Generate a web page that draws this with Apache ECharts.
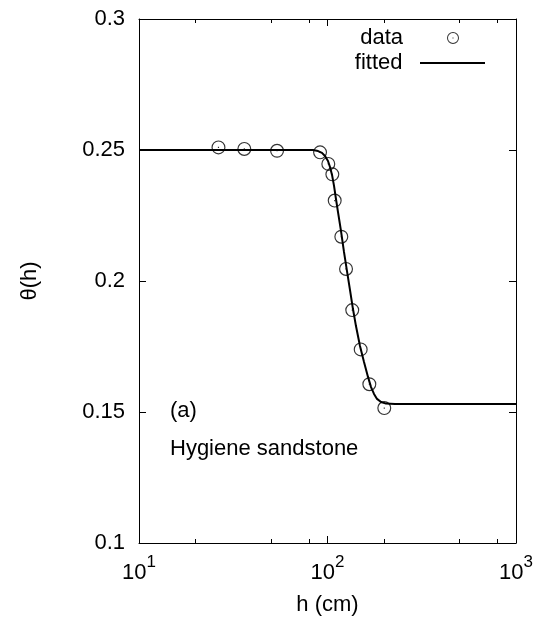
<!DOCTYPE html>
<html>
<head>
<meta charset="utf-8">
<script src="https://cdn.jsdelivr.net/npm/echarts@6/dist/echarts.min.js"></script>
<style>
  html, body { margin: 0; padding: 0; background: #fff; }
  #chart { width: 538px; height: 623px; }
</style>
</head>
<body>
<div id="chart"></div>
<script>
// Measured water retention, Hygiene sandstone: suction head h (cm) vs water content θ
const hData = [26.4, 36.2, 54.0, 91.3, 101.0, 106.1, 109.2, 118.4, 125.4, 135.3, 150.0, 166.7, 200.1];
const thetaData = [0.2510, 0.2504, 0.2497, 0.2491, 0.2447, 0.2407, 0.2307, 0.2169, 0.2046, 0.1889, 0.1739, 0.1606, 0.1515];

// Fitted retention curve, sampled along its length
const hFit = [10, 30, 60, 83.8, 89.1, 93.5, 97.0, 100.6, 103.1, 105.7, 108.3, 110.9, 113.7, 117.9, 122.3,
  126.9, 131.6, 136.5, 141.6, 148.7, 156.2, 164.0, 170.2, 176.5, 183.1, 192.3, 204.3, 228.1, 400, 1000];
const thetaFit = [0.2500, 0.2500, 0.2500, 0.2500, 0.2496, 0.2489, 0.2477, 0.2458, 0.2435, 0.2405, 0.2363, 0.2313, 0.2263, 0.2191, 0.2111,
  0.2038, 0.1966, 0.1893, 0.1828, 0.1752, 0.1691, 0.1634, 0.1595, 0.1569, 0.1550, 0.1538, 0.1532, 0.1531, 0.1531, 0.1531];

// Axis ranges and ticks
const xMin = 10, xMax = 1000;
const xMinorTicks = [20, 50, 80, 200, 500, 800];
const yMin = 0.1, yMax = 0.3, yStep = 0.05;

const FONT = '"Liberation Sans", Arial, Helvetica, sans-serif';
const TXT = 22;

// open circle with a centre dot
const ringDot = 'path://M0,6 A6,6 0 1,1 12,6 A6,6 0 1,1 0,6 Z M1,6 A5,5 0 1,0 11,6 A5,5 0 1,0 1,6 Z M5.5,5.5 h1 v1 h-1 Z';
const shortLine = 'path://M0,0 H65 V2 H0 Z';

const chart = echarts.init(document.getElementById('chart'), null, { renderer: 'canvas' });

const gridRect = { left: 139, right: 22, top: 19, bottom: 80 };

const logAxisBase = {
  type: 'log', logBase: 10, min: xMin, max: xMax,
  axisLine: { show: true, lineStyle: { color: '#000', width: 1 } },
  splitLine: { show: false },
  minorTick: { show: false }
};

const option = {
  backgroundColor: '#fff',
  animation: false,
  textStyle: { fontFamily: FONT, color: '#000' },
  grid: [
    Object.assign({}, gridRect),
    Object.assign({}, gridRect)
  ],
  xAxis: [
    Object.assign({}, logAxisBase, {
      gridIndex: 0, position: 'bottom',
      name: 'h (cm)', nameLocation: 'middle', nameGap: 51,
      nameTextStyle: { fontSize: TXT, fontFamily: FONT, color: '#000' },
      axisTick: { show: true, inside: true, length: 7, lineStyle: { color: '#000' } },
      axisLabel: {
        show: true, margin: 11, showMinLabel: true, showMaxLabel: true,
        formatter: function (v) { return '{b|10}{s|' + Math.round(Math.log10(v)) + '}'; },
        rich: {
          b: { fontSize: TXT, fontFamily: FONT, color: '#000', lineHeight: 30, verticalAlign: 'bottom' },
          s: { fontSize: 17, fontFamily: FONT, color: '#000', lineHeight: 17, verticalAlign: 'top' }
        }
      }
    }),
    Object.assign({}, logAxisBase, {
      gridIndex: 0, position: 'top',
      axisTick: { show: true, inside: true, length: 7, lineStyle: { color: '#000' } },
      axisLabel: { show: false }
    }),
    Object.assign({}, logAxisBase, {
      gridIndex: 1, position: 'bottom',
      axisLine: { show: false },
      axisTick: { show: true, inside: true, length: 4, customValues: xMinorTicks, lineStyle: { color: '#000' } },
      axisLabel: { show: false }
    }),
    Object.assign({}, logAxisBase, {
      gridIndex: 1, position: 'top',
      axisLine: { show: false },
      axisTick: { show: true, inside: true, length: 4, customValues: xMinorTicks, lineStyle: { color: '#000' } },
      axisLabel: { show: false }
    })
  ],
  yAxis: [
    {
      gridIndex: 0, type: 'value', position: 'left', min: yMin, max: yMax, interval: yStep,
      name: 'θ(h)', nameLocation: 'middle', nameGap: 98, nameRotate: 90,
      nameTextStyle: { fontSize: TXT, fontFamily: FONT, color: '#000' },
      axisLine: { show: true, lineStyle: { color: '#000', width: 1 } },
      axisTick: { show: true, inside: true, length: 7, lineStyle: { color: '#000' } },
      axisLabel: { show: true, margin: 14, fontSize: TXT, fontFamily: FONT, color: '#000',
        formatter: function (v) { return String(Math.round(v * 100) / 100); } },
      splitLine: { show: false }
    },
    {
      gridIndex: 0, type: 'value', position: 'right', min: yMin, max: yMax, interval: yStep,
      axisLine: { show: true, lineStyle: { color: '#000', width: 1 } },
      axisTick: { show: true, inside: true, length: 7, lineStyle: { color: '#000' } },
      axisLabel: { show: false },
      splitLine: { show: false }
    },
    {
      gridIndex: 1, type: 'value', min: yMin, max: yMax, interval: yStep, show: false
    }
  ],
  legend: [
    {
      data: [{ name: 'data', icon: ringDot, itemStyle: { color: '#000', borderWidth: 0 } }],
      right: 79, top: 27, align: 'right', orient: 'vertical',
      itemWidth: 90, itemHeight: 12, itemGap: 0, padding: 0,
      selectedMode: false,
      textStyle: { fontSize: TXT, fontFamily: FONT, color: '#000', lineHeight: 22 }
    },
    {
      data: [{ name: 'fitted', icon: shortLine, itemStyle: { color: '#000', borderWidth: 0 } }],
      right: 53, top: 52, align: 'right', orient: 'vertical',
      itemWidth: 90, itemHeight: 2, itemGap: 0, padding: 0,
      selectedMode: false,
      textStyle: { fontSize: TXT, fontFamily: FONT, color: '#000', lineHeight: 22 }
    }
  ],
  graphic: [
    { type: 'text', left: 170, top: 400, style: { text: '(a)', fontSize: TXT, fontFamily: FONT, fill: '#000' } },
    { type: 'text', left: 170, top: 438, style: { text: 'Hygiene sandstone', fontSize: TXT, fontFamily: FONT, fill: '#000' } }
  ],
  series: [
    {
      name: 'data', type: 'scatter', xAxisIndex: 0, yAxisIndex: 0,
      data: hData.map(function (h, i) { return [h, thetaData[i]]; }),
      symbol: ringDot, symbolSize: 14,
      itemStyle: { color: '#000' },
      z: 3
    },
    {
      name: 'fitted', type: 'line', xAxisIndex: 0, yAxisIndex: 0,
      data: hFit.map(function (h, i) { return [h, thetaFit[i]]; }),
      showSymbol: false, symbol: 'none', smooth: false,
      lineStyle: { color: '#000', width: 2 },
      z: 4
    }
  ]
};

chart.setOption(option);
</script>
</body>
</html>
